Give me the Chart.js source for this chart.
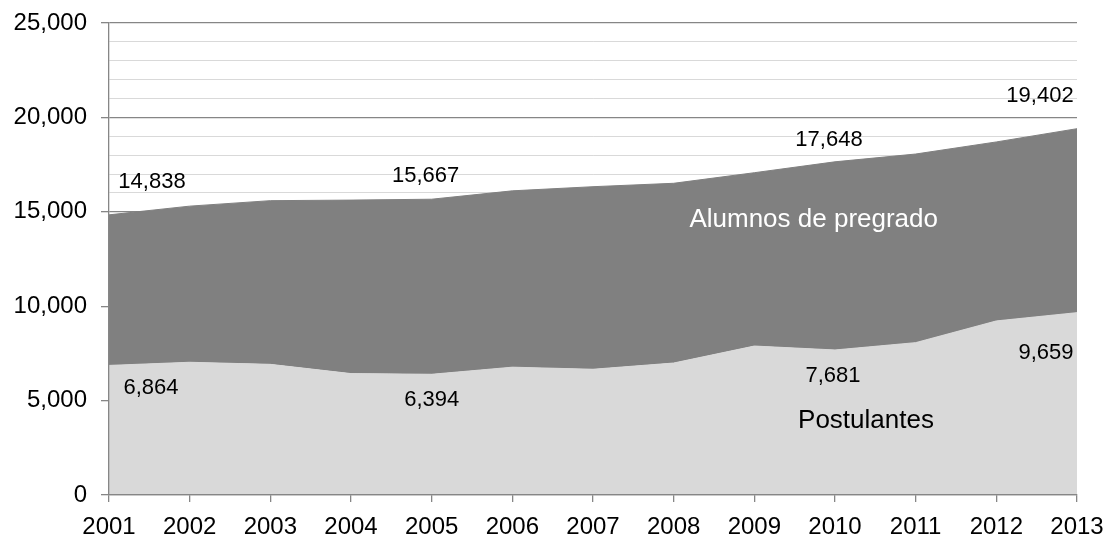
<!DOCTYPE html>
<html>
<head>
<meta charset="utf-8">
<title>Alumnos de pregrado y postulantes 2001-2013</title>
<script src="https://cdn.jsdelivr.net/npm/chart.js"></script>
<style>
  html, body { margin: 0; padding: 0; background: #fff; }
  #wrap { width: 1104px; height: 537px; }
</style>
</head>
<body>
<div id="wrap"><canvas id="chart"></canvas></div>
<script>
const years = ['2001', '2002', '2003', '2004', '2005', '2006', '2007', '2008', '2009', '2010', '2011', '2012', '2013'];
const postulantes = [6864, 7030, 6920, 6430, 6394, 6770, 6660, 6990, 7890, 7681, 8070, 9220, 9659];
const alumnos = [14838, 15300, 15590, 15620, 15667, 16110, 16330, 16510, 17070, 17648, 18060, 18700, 19402];
const labeledPoints = [0, 4, 9, 12];

const FONT = '"Liberation Sans", Arial, sans-serif';
const AXIS_GRAY = '#868686';

// where each value label sits relative to its point (px)
const postOffsets = { 0: [42, 21], 4: [0, 24], 9: [-2, 24], 12: [-31, 38] };
const alumnosOffsets = { 0: [43, -35], 4: [-6, -25], 9: [-6, -24], 12: [-37, -35] };

const valueLabels = {
  id: 'valueLabels',
  afterDatasetsDraw(chart) {
    const ctx = chart.ctx;
    const a = chart.chartArea;
    ctx.save();
    ctx.textAlign = 'center';
    ctx.textBaseline = 'alphabetic';
    ctx.font = '22px ' + FONT;
    ctx.fillStyle = '#000';
    [[0, postOffsets], [1, alumnosOffsets]].forEach(([di, offs]) => {
      const meta = chart.getDatasetMeta(di);
      const data = chart.data.datasets[di].data;
      labeledPoints.forEach(i => {
        const pt = meta.data[i];
        ctx.fillText(data[i].toLocaleString('en-US'), pt.x + offs[i][0], pt.y + offs[i][1] + 8);
      });
    });
    // series names inside the areas
    ctx.font = '26px ' + FONT;
    ctx.fillStyle = '#fff';
    ctx.fillText(chart.data.datasets[1].label, a.left + a.width * 0.728, a.top + 203.5);
    ctx.fillStyle = '#000';
    ctx.fillText(chart.data.datasets[0].label, a.left + a.width * 0.782, a.top + 405);
    ctx.restore();
  }
};

// keep the plot box fixed: ignore the label overflow padding chart.js adds
function noOverflow(s) {
  s.paddingTop = 0;
  s.paddingBottom = 0;
  s.paddingLeft = 0;
  s.paddingRight = 0;
}

new Chart(document.getElementById('chart'), {
  type: 'line',
  data: {
    labels: years,
    datasets: [
      {
        label: 'Postulantes',
        data: postulantes,
        fill: 'origin',
        backgroundColor: '#d9d9d9',
        borderColor: '#d9d9d9',
        borderWidth: 1
      },
      {
        label: 'Alumnos de pregrado',
        data: alumnos,
        fill: '-1',
        backgroundColor: '#808080',
        borderColor: '#808080',
        borderWidth: 1
      }
    ]
  },
  options: {
    responsive: true,
    maintainAspectRatio: false,
    animation: false,
    devicePixelRatio: 1,
    layout: { autoPadding: false, padding: { top: 23, right: 27, left: 0, bottom: 0 } },
    plugins: {
      legend: { display: false },
      tooltip: { enabled: false }
    },
    elements: {
      point: { radius: 0, hoverRadius: 0 },
      line: { tension: 0 }
    },
    scales: {
      x: {
        offset: false,
        grid: { drawOnChartArea: false, tickLength: 7, tickColor: AXIS_GRAY, lineWidth: 1.3 },
        border: { color: AXIS_GRAY, width: 1.3, z: 1 },
        ticks: {
          color: '#000',
          font: { family: FONT, size: 24 },
          padding: 11,
          maxRotation: 0,
          autoSkip: false
        },
        afterFit(s) { s.height = 42; noOverflow(s); }
      },
      y: {
        min: 0,
        max: 25000,
        grid: {
          color: c => c.tick.value % 5000 === 0 ? AXIS_GRAY : '#d9d9d9',
          tickColor: c => c.tick.value % 5000 === 0 ? AXIS_GRAY : 'rgba(0,0,0,0)',
          lineWidth: c => c.tick.value % 5000 === 0 ? 1.3 : 1,
          tickLength: 8
        },
        border: { color: AXIS_GRAY, width: 1.3, z: 1 },
        ticks: {
          stepSize: 1000,
          autoSkip: false,
          color: '#000',
          font: { family: FONT, size: 24 },
          padding: 14,
          callback: v => v % 5000 === 0 ? v.toLocaleString('en-US') : ''
        },
        afterFit(s) { s.width = 109; noOverflow(s); }
      }
    }
  },
  plugins: [valueLabels]
});
</script>
</body>
</html>
